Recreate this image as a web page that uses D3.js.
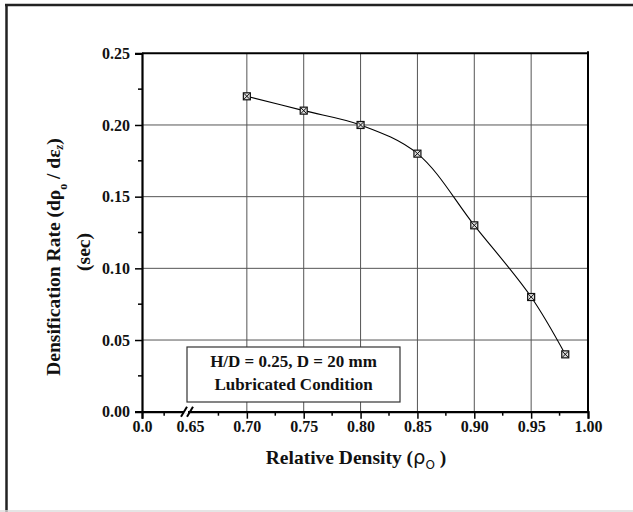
<!DOCTYPE html>
<html>
<head>
<meta charset="utf-8">
<script src="https://cdn.jsdelivr.net/npm/d3@7"></script>
<style>
  body { margin: 0; background: #fff; }
  svg { display: block; font-family: "Liberation Serif", "Times New Roman", serif; font-weight: bold; }
</style>
</head>
<body>
<svg id="chart" width="633" height="512"></svg>
<script>
// data
const density = [0.70, 0.75, 0.80, 0.85, 0.90, 0.95, 0.98];
const rate = [0.22, 0.21, 0.20, 0.18, 0.13, 0.08, 0.04];

const xTickValues = [0.0, 0.65, 0.70, 0.75, 0.80, 0.85, 0.90, 0.95, 1.00];
const xTickLabels = ['0.0', '0.65', '0.70', '0.75', '0.80', '0.85', '0.90', '0.95', '1.00'];
const xMinorTicks = [0.30, 0.675, 0.725, 0.775, 0.825, 0.875, 0.925, 0.975];
const xGrid = [0.70, 0.75, 0.80, 0.85, 0.90, 0.95];
const yTickValues = [0.00, 0.05, 0.10, 0.15, 0.20, 0.25];
const yMinorTicks = [0.025, 0.075, 0.125, 0.175, 0.225];
const yGrid = [0.05, 0.10, 0.15, 0.20];
const legendLines = ['H/D = 0.25, D = 20 mm', 'Lubricated Condition'];

const svg = d3.select('#chart');

// outer frame
svg.append('line').attr('x1', 6.5).attr('x2', 6.5).attr('y1', 4).attr('y2', 512)
  .attr('stroke', '#222').attr('stroke-width', 2.5);
svg.append('line').attr('x1', 5).attr('x2', 633).attr('y1', 5).attr('y2', 5)
  .attr('stroke', '#222').attr('stroke-width', 2.5);
svg.append('line').attr('x1', 0).attr('x2', 633).attr('y1', 511).attr('y2', 511)
  .attr('stroke', '#ddd').attr('stroke-width', 1.5);

// broken x scale: 0.0 then 0.65 .. 1.00
const x = d3.scaleLinear().domain([0, 0.65, 1.0]).range([142, 190, 588]);
const y = d3.scaleLinear().domain([0, 0.25]).range([411.7, 53.3]);

const plotL = x(0), plotR = x(1.0), plotB = y(0), plotT = y(0.25);

// grid
svg.append('g').selectAll('line').data(xGrid).join('line')
  .attr('x1', d => x(d)).attr('x2', d => x(d))
  .attr('y1', plotT).attr('y2', plotB)
  .attr('stroke', '#555').attr('stroke-width', 1);
svg.append('g').selectAll('line').data(yGrid).join('line')
  .attr('x1', plotL).attr('x2', plotR)
  .attr('y1', d => y(d)).attr('y2', d => y(d))
  .attr('stroke', '#555').attr('stroke-width', 1);

// top and right frame of the plot
svg.append('line').attr('x1', plotL).attr('x2', plotR + 1).attr('y1', plotT).attr('y2', plotT)
  .attr('stroke', '#000').attr('stroke-width', 2);
svg.append('line').attr('x1', plotR).attr('x2', plotR).attr('y1', plotT - 2).attr('y2', plotB)
  .attr('stroke', '#000').attr('stroke-width', 2);

// x axis
const xAxis = d3.axisBottom(x)
  .tickValues(xTickValues)
  .tickSize(7)
  .tickPadding(2)
  .tickFormat((d, i) => xTickLabels[i]);
const gx = svg.append('g').attr('transform', `translate(0,${plotB})`).call(xAxis)
  .attr('font-size', 16).attr('font-family', '"Liberation Serif", serif');
gx.select('.domain').attr('stroke-width', 2.2);
gx.selectAll('.tick line').attr('stroke-width', 1.5);
gx.selectAll('.tick text').style('font-size', '16px').style('font-weight', 'bold').attr('fill', '#111');
gx.selectAll('.tick').filter(d => d === 0.65).select('line').remove();
svg.append('g').selectAll('line').data(xMinorTicks).join('line')
  .attr('x1', d => x(d)).attr('x2', d => x(d))
  .attr('y1', plotB).attr('y2', plotB + 4)
  .attr('stroke', '#000').attr('stroke-width', 1.5);

// axis break
const brk = svg.append('g');
brk.append('rect').attr('x', 184).attr('y', plotB - 2).attr('width', 4).attr('height', 4).attr('fill', '#fff');
[181, 187].forEach(bx => {
  brk.append('line').attr('x1', bx).attr('y1', plotB + 5).attr('x2', bx + 6).attr('y2', plotB - 5)
    .attr('stroke', '#000').attr('stroke-width', 2);
});

// y axis
const yAxis = d3.axisLeft(y)
  .tickValues(yTickValues)
  .tickSize(7)
  .tickPadding(5)
  .tickFormat(d3.format('.2f'));
const gy = svg.append('g').attr('transform', `translate(${plotL},0)`).call(yAxis)
  .attr('font-size', 16).attr('font-family', '"Liberation Serif", serif');
gy.select('.domain').attr('stroke-width', 2.2);
gy.selectAll('.tick line').attr('stroke-width', 1.5);
gy.selectAll('.tick text').style('font-size', '16px').style('font-weight', 'bold').attr('fill', '#111');
svg.append('g').selectAll('line').data(yMinorTicks).join('line')
  .attr('x1', plotL - 4).attr('x2', plotL)
  .attr('y1', d => y(d)).attr('y2', d => y(d))
  .attr('stroke', '#000').attr('stroke-width', 1.5);

// curve
const pts = density.map((d, i) => [d, rate[i]]);
const line = d3.line().x(d => x(d[0])).y(d => y(d[1])).curve(d3.curveCatmullRom.alpha(0.5));
svg.append('path').datum(pts).attr('d', line)
  .attr('fill', 'none').attr('stroke', '#000').attr('stroke-width', 1.1);

// markers: square with a cross
const mk = svg.append('g').selectAll('g').data(pts).join('g')
  .attr('transform', d => `translate(${x(d[0])},${y(d[1])})`);
mk.append('rect').attr('x', -3.5).attr('y', -3.5).attr('width', 7).attr('height', 7)
  .attr('fill', '#ddd').attr('stroke', '#111').attr('stroke-width', 1.2);
mk.append('path').attr('d', 'M-3,-3L3,3M-3,3L3,-3').attr('stroke', '#111').attr('stroke-width', 1);

// legend box
const lg = svg.append('g');
lg.append('rect').attr('x', 187).attr('y', 347).attr('width', 213).attr('height', 55)
  .attr('fill', '#fff').attr('stroke', '#333').attr('stroke-width', 1.2);
lg.selectAll('text').data(legendLines).join('text')
  .attr('x', 293.5).attr('y', (d, i) => 367 + i * 22.5)
  .attr('text-anchor', 'middle').style('font-size', '17px').attr('fill', '#111')
  .text(d => d);

// x title
const xt = svg.append('text').attr('x', 356).attr('y', 464)
  .attr('text-anchor', 'middle').style('font-size', '19.5px').attr('fill', '#111');
xt.append('tspan').text('Relative Density (');
xt.append('tspan').attr('font-family', '"DejaVu Sans", sans-serif').attr('font-weight', 'normal').text('ρ');
xt.append('tspan').attr('font-family', '"DejaVu Sans", sans-serif').attr('font-weight', 'normal')
  .style('font-size', '12px').attr('dy', 5).text('O');
xt.append('tspan').attr('dy', -5).text(' )');

// y title, two lines
const yt = svg.append('text').attr('transform', 'translate(60,257) rotate(-90)')
  .attr('text-anchor', 'middle').style('font-size', '19.5px').attr('fill', '#111');
yt.append('tspan').text('Densification Rate (dρ');
yt.append('tspan').style('font-size', '12px').attr('dy', 7).text('o');
yt.append('tspan').attr('dy', -7).text(' / dε');
yt.append('tspan').style('font-size', '12px').attr('dy', 3).attr('font-style', 'italic').text('z');
yt.append('tspan').attr('dy', -3).text(')');
svg.append('text').attr('transform', 'translate(90,252) rotate(-90)')
  .attr('text-anchor', 'middle').style('font-size', '19.5px').attr('fill', '#111')
  .text('(sec)');
</script>
</body>
</html>
